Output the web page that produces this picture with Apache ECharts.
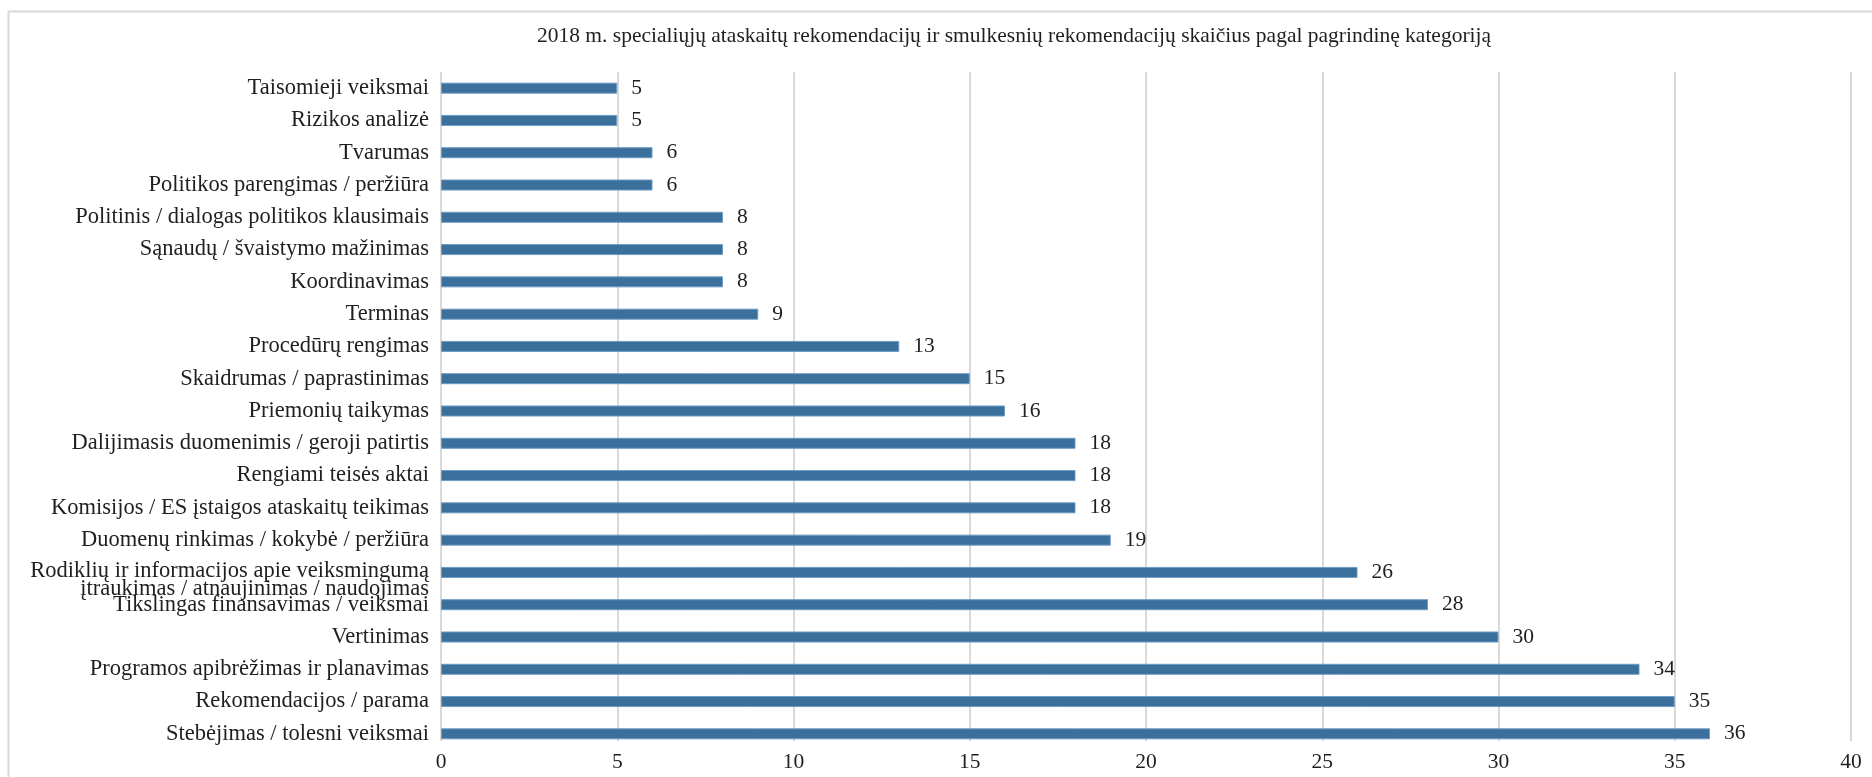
<!DOCTYPE html>
<html>
<head>
<meta charset="utf-8">
<script src="https://cdn.jsdelivr.net/npm/echarts@6/dist/echarts.min.js"></script>
<style>
  html, body { margin: 0; padding: 0; background: #ffffff; }
  #chart { width: 1872px; height: 777px; }
</style>
</head>
<body>
<div id="chart"></div>
<script>
// Categories listed bottom to top (category axis starts at the bottom)
const categories = [
  'Stebėjimas / tolesni veiksmai',
  'Rekomendacijos / parama',
  'Programos apibrėžimas ir planavimas',
  'Vertinimas',
  'Tikslingas finansavimas / veiksmai',
  'Rodiklių ir informacijos apie veiksmingumą\nįtraukimas / atnaujinimas / naudojimas',
  'Duomenų rinkimas / kokybė / peržiūra',
  'Komisijos / ES įstaigos ataskaitų teikimas',
  'Rengiami teisės aktai',
  'Dalijimasis duomenimis / geroji patirtis',
  'Priemonių taikymas',
  'Skaidrumas / paprastinimas',
  'Procedūrų rengimas',
  'Terminas',
  'Koordinavimas',
  'Sąnaudų / švaistymo mažinimas',
  'Politinis / dialogas politikos klausimais',
  'Politikos parengimas / peržiūra',
  'Tvarumas',
  'Rizikos analizė',
  'Taisomieji veiksmai'
];

const counts = [36, 35, 34, 30, 28, 26, 19, 18, 18, 18, 16, 15, 13, 9, 8, 8, 8, 6, 6, 5, 5];

const titleText = '2018 m. specialiųjų ataskaitų rekomendacijų ir smulkesnių rekomendacijų skaičius pagal pagrindinę kategoriją';

const FONT = '"Liberation Serif", "DejaVu Serif", serif';
const TEXT = '#1f1f1f';

const chart = echarts.init(document.getElementById('chart'), null, { renderer: 'canvas' });

chart.setOption({
  animation: false,
  backgroundColor: '#ffffff',
  textStyle: { fontFamily: FONT },
  graphic: [
    {
      // outer chart frame
      type: 'rect',
      left: 6, top: 9,
      shape: { width: 1900, height: 800 },
      style: { fill: 'none', stroke: '#d9d9d9', lineWidth: 2 },
      silent: true
    },
    {
      // trims the vertical gridlines just below the last bar
      type: 'rect',
      left: 432, top: 741,
      z: 1,
      shape: { width: 1432, height: 10 },
      style: { fill: '#ffffff' },
      silent: true
    },
    {
      type: 'text',
      x: 1014, y: 36,
      style: {
        text: titleText,
        fontFamily: FONT,
        fontSize: 21.5,
        fill: TEXT,
        align: 'center',
        verticalAlign: 'middle'
      }
    }
  ],
  grid: { left: 441, right: 21, top: 72, bottom: 27, containLabel: false },
  xAxis: {
    type: 'value',
    min: 0,
    max: 40,
    interval: 5,
    axisLine: { show: false },
    axisTick: { show: false },
    axisLabel: { color: TEXT, fontFamily: FONT, fontSize: 21.5, margin: 1 },
    splitLine: { show: true, lineStyle: { color: '#d9d9d9', width: 2 } }
  },
  yAxis: {
    type: 'category',
    data: categories,
    axisLine: { show: false },
    axisTick: { show: false },
    axisLabel: {
      color: TEXT,
      fontFamily: FONT,
      fontSize: 22.5,
      margin: 12,
      align: 'right',
      formatter: function (v) {
        if (v.indexOf('\n') >= 0) {
          const parts = v.split('\n');
          return '{s| }\n{m|' + parts[0] + '}\n{m|' + parts[1] + '}';
        }
        return v;
      },
      rich: {
        s: { fontSize: 10, lineHeight: 16, fontFamily: FONT },
        m: { fontSize: 22.5, lineHeight: 18, fontFamily: FONT, color: TEXT }
      }
    }
  },
  series: [
    {
      type: 'bar',
      data: counts,
      barWidth: 11,
      itemStyle: { color: '#3b6f9c', borderColor: '#6d9bc3', borderWidth: 1 },
      label: {
        show: true,
        position: 'right',
        distance: 14,
        color: TEXT,
        fontFamily: FONT,
        fontSize: 21.5
      }
    }
  ]
});
</script>
</body>
</html>
